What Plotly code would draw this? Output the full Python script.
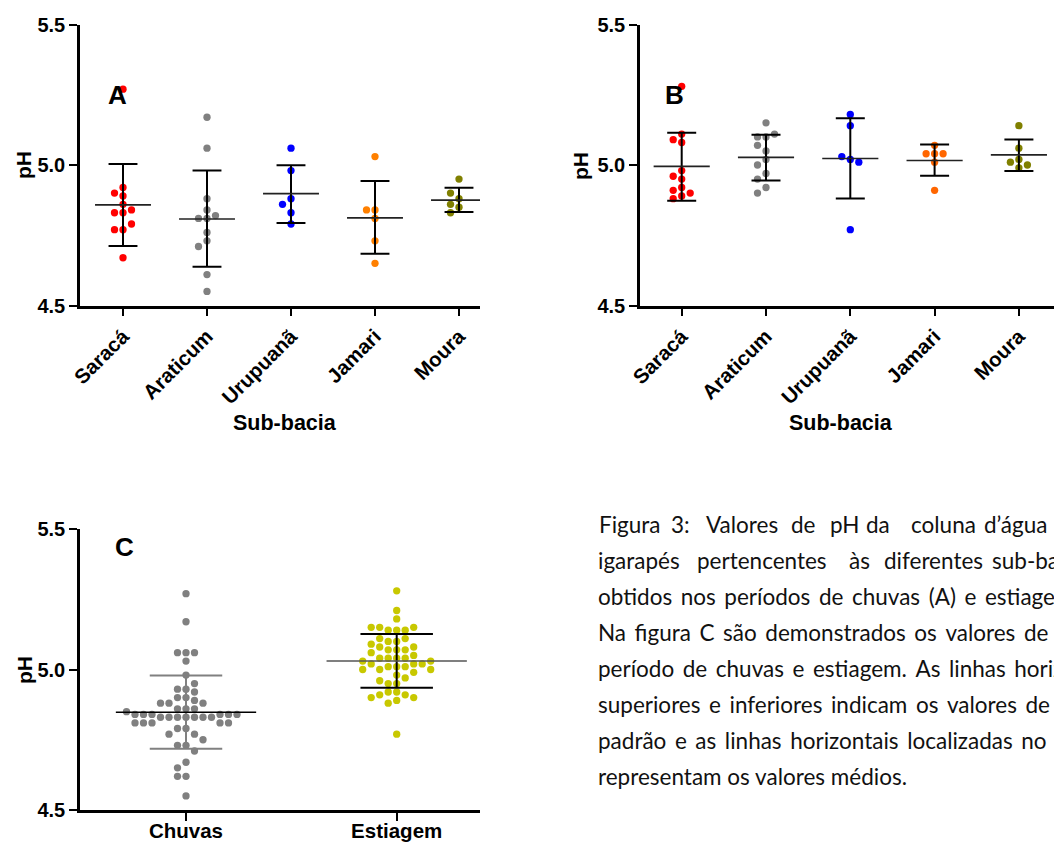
import plotly.graph_objects as go

W, H = 1054, 844

# ---------------- data (pH values) ----------------
sub_bacias = ["Saracá", "Araticum", "Urupuanã", "Jamari", "Moura"]
periodos = ["Chuvas", "Estiagem"]

# Panel A - chuvas
A_saraca = [5.27, 4.92, 4.90, 4.89, 4.86, 4.84, 4.83, 4.83, 4.79, 4.77, 4.77, 4.67]
A_araticum = [5.17, 5.06, 4.88, 4.84, 4.82, 4.81, 4.81, 4.76, 4.73, 4.71, 4.61, 4.55]
A_urupuana = [5.06, 4.98, 4.88, 4.86, 4.83, 4.79]
A_jamari = [5.03, 4.84, 4.84, 4.81, 4.73, 4.65]
A_moura = [4.95, 4.90, 4.88, 4.86, 4.85, 4.83]
A_media = [4.858, 4.808, 4.898, 4.812, 4.875]
A_dp_sup = [5.004, 4.980, 4.999, 4.943, 4.919]
A_dp_inf = [4.712, 4.638, 4.794, 4.684, 4.833]

# Panel B - estiagem
B_saraca = [5.28, 5.11, 5.09, 5.08, 4.98, 4.96, 4.95, 4.92, 4.91, 4.90, 4.89, 4.88]
B_araticum = [5.15, 5.11, 5.10, 5.10, 5.07, 5.05, 5.02, 5.00, 4.97, 4.95, 4.92, 4.90]
B_urupuana = [5.18, 5.14, 5.03, 5.02, 5.01, 4.77]
B_jamari = [5.07, 5.04, 5.04, 5.04, 5.01, 4.91]
B_moura = [5.14, 5.06, 5.02, 5.01, 5.00, 4.99]
B_media = [4.995, 5.027, 5.023, 5.016, 5.036]
B_dp_sup = [5.115, 5.108, 5.166, 5.073, 5.091]
B_dp_inf = [4.873, 4.945, 4.881, 4.962, 4.979]

# Panel C - periods
C_chuvas = [5.27, 5.17, 5.06, 5.06, 5.06, 5.03, 4.98, 4.95, 4.93, 4.93, 4.92,
            4.90, 4.90, 4.89, 4.88, 4.88, 4.88, 4.86, 4.86, 4.86, 4.85,
            4.84, 4.84, 4.84, 4.84, 4.84, 4.84,
            4.83, 4.83, 4.83, 4.83, 4.83, 4.83, 4.83,
            4.81, 4.81, 4.81, 4.81, 4.81, 4.79, 4.79, 4.77, 4.77, 4.75,
            4.73, 4.73, 4.71, 4.67, 4.65, 4.62, 4.62, 4.55]
C_estiagem = [5.28, 5.21, 5.18, 5.15, 5.15, 5.15, 5.14, 5.14, 5.14, 5.11, 5.11,
              5.10, 5.10, 5.09, 5.08, 5.08, 5.07, 5.07, 5.07, 5.06, 5.05,
              5.04, 5.04, 5.04, 5.04, 5.03, 5.03, 5.02, 5.02, 5.02,
              5.01, 5.01, 5.01, 5.00, 5.00, 5.00, 4.99, 4.98, 4.97, 4.96,
              4.95, 4.95, 4.92, 4.92, 4.91, 4.91, 4.90, 4.90, 4.89, 4.88, 4.77]
C_media = [4.848, 5.030]
C_dp_sup = [4.979, 5.126]
C_dp_inf = [4.718, 4.935]

cores_A = ["#FF0000", "#808080", "#0000FF", "#FF8000", "#808000"]
cores_B = ["#FF0000", "#808080", "#0000FF", "#FF6600", "#808000"]
cores_C = ["#808080", "#C8C800"]

series_A = [A_saraca, A_araticum, A_urupuana, A_jamari, A_moura]
series_B = [B_saraca, B_araticum, B_urupuana, B_jamari, B_moura]
series_C = [C_chuvas, C_estiagem]

# ---------------- panel geometry (pixels) ----------------
PX_PER_PH = 281.0
DOT_STEP = 8.5      # horizontal spacing between swarm columns (px)
MIN_GAP = 7.0       # min vertical distance in the same column (px)


def swarm_columns(vals):
    """Beeswarm: integer column index for each value."""
    n = len(vals)
    counts = {}
    for v in vals:
        counts[v] = counts.get(v, 0) + 1
    mean_v = sum(vals) / n
    order = sorted(range(n), key=lambda i: (-counts[vals[i]], abs(vals[i] - mean_v)))
    placed = []
    cols = [0] * n
    cands = [0]
    for k in range(1, 30):
        cands += [-k, k]
    for i in order:
        y = vals[i] * PX_PER_PH
        for k in cands:
            ok = True
            for (pk, py) in placed:
                if pk == k and abs(py - y) < MIN_GAP:
                    ok = False
                    break
            if ok:
                cols[i] = k
                placed.append((k, y))
                break
    return cols


def dom_x(x0, x1):
    return [x0 / W, x1 / W]


def dom_y(ytop, ybot):
    return [1 - ybot / H, 1 - ytop / H]


fig = go.Figure()

panels = [
    dict(ax="", series=series_A, cores=cores_A, media=A_media, sup=A_dp_sup, inf=A_dp_inf,
         px_cat=84.0, cats=sub_bacias),
    dict(ax="2", series=series_B, cores=cores_B, media=B_media, sup=B_dp_sup, inf=B_dp_inf,
         px_cat=84.3, cats=sub_bacias),
    dict(ax="3", series=series_C, cores=cores_C, media=C_media, sup=C_dp_sup, inf=C_dp_inf,
         px_cat=210.7, cats=periodos),
]

for p in panels:
    xa = "x" + p["ax"]
    ya = "y" + p["ax"]
    pc = p["px_cat"]
    for i, vals in enumerate(p["series"]):
        cols = swarm_columns(vals)
        xs = [i + c * DOT_STEP / pc for c in cols]
        fig.add_trace(go.Scatter(x=xs, y=vals, mode="markers", xaxis=xa, yaxis=ya,
                                 marker=dict(size=7.3, color=p["cores"][i], line=dict(width=0)),
                                 showlegend=False, cliponaxis=False, hoverinfo="y"))
    is_c = p["ax"] == "3"
    for i in range(len(p["series"])):
        mw = 0.333
        cw = 0.172
        if is_c:
            sd_col = "#808080" if i == 0 else "black"
            m_col = "black" if i == 0 else "#555555"
        else:
            sd_col = "black"
            m_col = "#222222"
        # SD: vertical line + caps
        fig.add_trace(go.Scatter(
            x=[i, i, None, i - cw, i + cw, None, i - cw, i + cw],
            y=[p["inf"][i], p["sup"][i], None, p["sup"][i], p["sup"][i], None, p["inf"][i], p["inf"][i]],
            mode="lines", xaxis=xa, yaxis=ya, line=dict(color=sd_col, width=2),
            showlegend=False, hoverinfo="skip", cliponaxis=False))
        # mean line
        fig.add_trace(go.Scatter(
            x=[i - mw, i + mw], y=[p["media"][i], p["media"][i]],
            mode="lines", xaxis=xa, yaxis=ya, line=dict(color=m_col, width=1.6),
            showlegend=False, hoverinfo="skip", cliponaxis=False))

bold_font = dict(family="Liberation Sans, Arial", size=20, color="black", weight="bold")


def xaxis_cfg(x0, x1, first_px, pc, cats, angle, standoff=0):
    return dict(domain=dom_x(x0, x1),
                range=[(x0 - first_px) / pc, (x1 - first_px) / pc],
                tickvals=list(range(len(cats))), ticktext=cats,
                tickangle=angle, showline=True, linecolor="black", linewidth=2.5,
                ticks="outside", ticklen=8, tickwidth=2, tickcolor="black",
                ticklabelstandoff=standoff,
                showgrid=False, zeroline=False, automargin=False,
                tickfont=dict(family="Liberation Sans, Arial", size=20.5, color="black", weight="bold"))


def yaxis_cfg(ytop, ybot, anchor):
    return dict(domain=dom_y(ytop, ybot), range=[4.5, 5.5], anchor=anchor,
                tickvals=[4.5, 5.0, 5.5], ticktext=["4.5", "5.0", "5.5"],
                showline=True, linecolor="black", linewidth=2.5,
                ticks="outside", ticklen=8, tickwidth=2, tickcolor="black",
                showgrid=False, zeroline=False, automargin=False, tickfont=bold_font)


fig.update_layout(
    width=W, height=H, autosize=False,
    margin=dict(l=0, r=0, t=0, b=0, pad=0, autoexpand=False),
    paper_bgcolor="white", plot_bgcolor="white", showlegend=False,
    xaxis=dict(**xaxis_cfg(80, 480, 123, 84.0, sub_bacias, -45), anchor="y"),
    yaxis=yaxis_cfg(24.5, 305.5, "x"),
    xaxis2=dict(**xaxis_cfg(640, 1054, 681.7, 84.3, sub_bacias, -45), anchor="y2"),
    yaxis2=yaxis_cfg(24.5, 305.5, "x2"),
    xaxis3=dict(**xaxis_cfg(80, 480, 186, 210.7, periodos, 0, standoff=-7), anchor="y3"),
    yaxis3=yaxis_cfg(529, 810, "x3"),
)

ann = []


def add_text(txt, x, y, size, angle=0, xanchor="center", bold=True, family="Liberation Sans, Arial",
             color="black"):
    ann.append(dict(text=("<b>%s</b>" % txt) if bold else txt, x=x / W, y=1 - y / H,
                    xref="paper", yref="paper", showarrow=False, textangle=angle,
                    xanchor=xanchor, yanchor="middle",
                    font=dict(family=family, size=size, color=color)))


# panel letters
add_text("A", 117, 95, 26)
add_text("B", 674, 95, 26)
add_text("C", 124, 547, 26)
# y titles
add_text("pH", 24, 165, 21, angle=-90)
add_text("pH", 581, 166, 21, angle=-90)
add_text("pH", 24, 670, 21, angle=-90)
# x titles
add_text("Sub-bacia", 285, 423, 21.5)
add_text("Sub-bacia", 841, 423, 21.5)

# caption
cap_font = "Lato, Open Sans, sans-serif"
cap_size = 22.5
line1_words = ["Figura", "3:", "Valores", "de", "pH", "da", "coluna", "d’água"]
line1_x = [597, 669, 704, 789, 828, 864, 909, 982]
line2_words = ["igarapés", "pertencentes", "às", "diferentes", "sub-bacias"]
line2_x = [596, 695, 847, 882, 990]
justified_lines = [
    "obtidos nos períodos de chuvas (A) e estiagem",
    "Na figura C são demonstrados os valores de",
    "período de chuvas e estiagem. As linhas horizontais",
    "superiores e inferiores indicam os valores de",
    "padrão e as linhas horizontais localizadas no",
]
last_line = "representam os valores médios."
line_y = [524, 560, 596, 632, 668, 704, 740, 776]
for w, xx in zip(line1_words, line1_x):
    add_text(w, xx, line_y[0], cap_size, xanchor="left", bold=False, family=cap_font, color="#111111")
for w, xx in zip(line2_words, line2_x):
    add_text(w, xx, line_y[1], cap_size, xanchor="left", bold=False, family=cap_font, color="#111111")
for t, yy in zip(justified_lines, line_y[2:7]):
    # justified text: slightly wider word gaps
    add_text(t.replace(" ", " \u2009"), 596, yy, cap_size, xanchor="left", bold=False,
             family=cap_font, color="#111111")
add_text(last_line, 596, line_y[7], cap_size, xanchor="left", bold=False, family=cap_font, color="#111111")

fig.update_layout(annotations=ann)

fig.write_html("out.html")
